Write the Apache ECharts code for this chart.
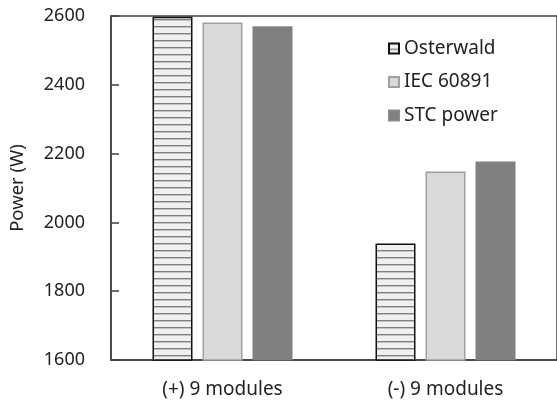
<!DOCTYPE html>
<html><head><meta charset="utf-8">
<script src="https://cdn.jsdelivr.net/npm/echarts@6/dist/echarts.min.js"></script>
<style>html,body{margin:0;padding:0;background:#fff}#c{width:557px;height:404px}</style>
</head><body><div id="c"></div>
<script>
var categories = ['(+) 9 modules', '(-) 9 modules'];
var seriesNames = ['Osterwald', 'IEC 60891', 'STC power'];
var osterwald = [2598, 1939];
var iec60891 = [2581, 2148];
var stcPower = [2570, 2177];
var yTicks = [1600, 1800, 2000, 2200, 2400, 2600];

function stripe() {
  var cv = document.createElement('canvas');
  cv.width = 8; cv.height = 7;
  var g = cv.getContext('2d');
  g.fillStyle = '#f0f0f0'; g.fillRect(0, 0, 8, 7);
  g.fillStyle = '#808080'; g.fillRect(0, 5, 8, 1.4);
  return cv;
}
var font = 'Noto Sans';
var chart = echarts.init(document.getElementById('c'));
chart.setOption({
  animation: false,
  textStyle: {fontFamily: font},
  grid: {left: 109, top: 16, width: 450, height: 344, show: true, borderColor: '#404040', borderWidth: 1.5, backgroundColor: 'transparent'},
  legend: {
    orient: 'vertical', left: 383, top: 34, itemGap: 14.5, itemWidth: 10, itemHeight: 10, icon: 'rect',
    textStyle: {fontSize: 19, color: '#222', fontFamily: font},
    data: seriesNames
  },
  xAxis: {
    type: 'category', data: categories,
    axisLine: {lineStyle: {color: '#404040', width: 1.5}},
    axisTick: {show: false},
    axisLabel: {fontSize: 19, color: '#222', margin: 20}
  },
  yAxis: {
    type: 'value', min: yTicks[0], max: yTicks[yTicks.length - 1], interval: 200,
    name: 'Power (W)', nameLocation: 'middle', nameGap: 84, nameRotate: 90,
    nameTextStyle: {fontSize: 18.5, color: '#222'},
    axisLine: {show: true, lineStyle: {color: '#404040', width: 1.5}},
    axisTick: {show: true, inside: true, length: 8, lineStyle: {color: '#404040', width: 1.5}},
    splitLine: {show: false},
    axisLabel: {fontSize: 18, color: '#222', margin: 26, formatter: function (v) { return String(v); }}
  },
  series: [
    {name: seriesNames[0], type: 'bar', data: osterwald, barWidth: 40, barGap: '25%',
     itemStyle: {color: {image: stripe(), repeat: 'repeat'}, borderColor: '#111', borderWidth: 1.5}},
    {name: seriesNames[1], type: 'bar', data: iec60891, barWidth: 40,
     itemStyle: {color: '#d9d9d9', borderColor: '#a0a0a0', borderWidth: 1.5}},
    {name: seriesNames[2], type: 'bar', data: stcPower, barWidth: 40,
     itemStyle: {color: '#808080', borderColor: '#8a8a8a', borderWidth: 0.5}}
  ]
});
</script></body></html>
